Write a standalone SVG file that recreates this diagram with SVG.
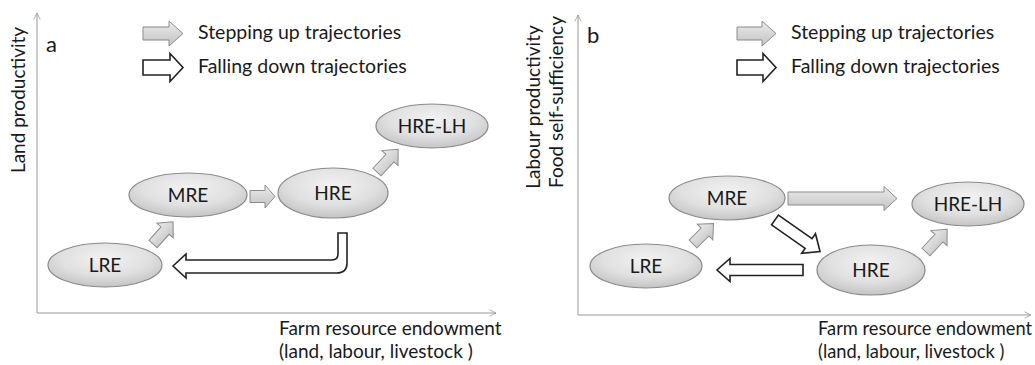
<svg xmlns="http://www.w3.org/2000/svg" width="1035" height="365" viewBox="0 0 1035 365">
<defs>
<radialGradient id="eg" cx="0.5" cy="0.35" r="0.65">
<stop offset="0" stop-color="#f2f2f2"/>
<stop offset="0.6" stop-color="#e0e0e0"/>
<stop offset="1" stop-color="#c4c4c4"/>
</radialGradient>
<linearGradient id="ag" x1="0" y1="0" x2="0" y2="1">
<stop offset="0" stop-color="#ececec"/>
<stop offset="1" stop-color="#c2c2c2"/>
</linearGradient>
<marker id="ax" viewBox="0 0 10 10" refX="9" refY="5" markerWidth="8" markerHeight="8" markerUnits="userSpaceOnUse" orient="auto">
<path d="M1,1 L9,5 L1,9" fill="none" stroke="#999" stroke-width="1"/>
</marker>
</defs>
<style>
text{font-family:Lato,"Open Sans","Liberation Sans",sans-serif;fill:#1a1a1a;}
.lab{font-size:19px;}
.labb{font-size:18.3px;}
.leg{font-size:19.5px;}
.nd{font-size:19px;text-anchor:middle;}
.big{font-size:22px;}
.node ellipse{fill:url(#eg);stroke:#8a8a8a;stroke-width:1.2;}
.up{fill:url(#ag);stroke:#8c8c8c;stroke-width:1;}
.down{fill:#fff;stroke:#222;stroke-width:1.6;stroke-linejoin:miter;}
.axis{stroke:#999;stroke-width:1;fill:none;}
</style>

<!-- Panel a -->
<g id="panel-a-axes">
<path class="axis" d="M37,313 L37,13" marker-end="url(#ax)"/>
<path class="axis" d="M37,313 L496,313" marker-end="url(#ax)"/>
<text class="lab" transform="translate(25,100) rotate(-90)" text-anchor="middle">Land productivity</text>
<text class="lab" x="279" y="335">Farm resource endowment</text>
<text class="lab" x="279" y="358">(land, labour, livestock )</text>
<text class="big" x="46" y="52">a</text>
</g>
<g id="legend-a">
<path class="up" transform="translate(143,33.5)" d="M0,-6.5 L26,-6.5 L26,-12.5 L40,0 L26,12.5 L26,6.5 L0,6.5 Z"/>
<text class="leg" x="198" y="39">Stepping up trajectories</text>
<path class="down" transform="translate(143,67.5)" d="M0,-7.5 L27,-7.5 L27,-14 L40,0 L27,14 L27,7.5 L0,7.5 Z"/>
<text class="leg" x="198" y="73">Falling down trajectories</text>
</g>
<g id="a-LRE" class="node"><ellipse cx="105" cy="265" rx="57" ry="22"/><text class="nd" x="105" y="271.5">LRE</text></g>
<g id="a-MRE" class="node"><ellipse cx="188" cy="195" rx="59" ry="22"/><text class="nd" x="188" y="201.5">MRE</text></g>
<g id="a-HRE" class="node"><ellipse cx="333" cy="193" rx="55" ry="25"/><text class="nd" x="333" y="199.5">HRE</text></g>
<g id="a-HRE-LH" class="node"><ellipse cx="432" cy="126" rx="56" ry="22"/><text class="nd" x="432" y="132.5">HRE-LH</text></g>
<g id="a-connectors">
<path class="up" transform="translate(153,244) rotate(-48)" d="M0,-5.5 L18,-5.5 L18,-11 L30,0 L18,11 L18,5.5 L0,5.5 Z"/>
<path class="up" transform="translate(250,196.5)" d="M0,-6 L15,-6 L15,-11.5 L25,0 L15,11.5 L15,6 L0,6 Z"/>
<path class="up" transform="translate(377,172) rotate(-47)" d="M0,-5.5 L19,-5.5 L19,-11 L31,0 L19,11 L19,5.5 L0,5.5 Z"/>
<path class="down" d="M173,266 L186,254 L186,260 L332,260 Q338,260 338,254 L338,233 L347,233 L347,263 Q347,273 337,273 L186,273 L186,278 Z"/>
</g>

<!-- Panel b -->
<g id="panel-b-axes">
<path class="axis" d="M578,315 L578,15" marker-end="url(#ax)"/>
<path class="axis" d="M578,315 L1031,315" marker-end="url(#ax)"/>
<text class="lab" transform="translate(540,107) rotate(-90)" text-anchor="middle">Labour productivity</text>
<text class="lab" transform="translate(563,102) rotate(-90)" text-anchor="middle">Food self-sufficiency</text>
<text class="labb" x="818" y="335">Farm resource endowment</text>
<text class="labb" x="818" y="358">(land, labour, livestock )</text>
<text class="big" x="587" y="43">b</text>
</g>
<g id="legend-b">
<path class="up" transform="translate(737,33.5)" d="M0,-6.5 L25,-6.5 L25,-12.5 L39,0 L25,12.5 L25,6.5 L0,6.5 Z"/>
<text class="leg" x="791" y="39">Stepping up trajectories</text>
<path class="down" transform="translate(737,67.5)" d="M0,-7.5 L26,-7.5 L26,-14 L39,0 L26,14 L26,7.5 L0,7.5 Z"/>
<text class="leg" x="791" y="73">Falling down trajectories</text>
</g>
<g id="b-LRE" class="node"><ellipse cx="646" cy="266" rx="56" ry="22"/><text class="nd" x="646" y="272.5">LRE</text></g>
<g id="b-MRE" class="node"><ellipse cx="727" cy="198" rx="58" ry="22"/><text class="nd" x="727" y="204.5">MRE</text></g>
<g id="b-HRE" class="node"><ellipse cx="871" cy="270" rx="54" ry="25"/><text class="nd" x="871" y="276.5">HRE</text></g>
<g id="b-HRE-LH" class="node"><ellipse cx="968" cy="204" rx="56" ry="22"/><text class="nd" x="968" y="210.5">HRE-LH</text></g>
<g id="b-connectors">
<path class="up" transform="translate(693,244) rotate(-45)" d="M0,-5.5 L17,-5.5 L17,-11 L29,0 L17,11 L17,5.5 L0,5.5 Z"/>
<path class="up" transform="translate(788,198.5)" d="M0,-6.5 L96,-6.5 L96,-12 L109,0 L96,12 L96,6.5 L0,6.5 Z"/>
<path class="up" transform="translate(926,252) rotate(-47)" d="M0,-5.5 L19,-5.5 L19,-11 L31,0 L19,11 L19,5.5 L0,5.5 Z"/>
<path class="down" transform="translate(775,220) rotate(35)" d="M0,-6 L41,-6 L41,-12 L55,0 L41,12 L41,6 L0,6 Z"/>
<path class="down" transform="translate(803,270) rotate(180)" d="M0,-5.5 L73,-5.5 L73,-11.5 L86,0 L73,11.5 L73,5.5 L0,5.5 Z"/>
</g>
</svg>
